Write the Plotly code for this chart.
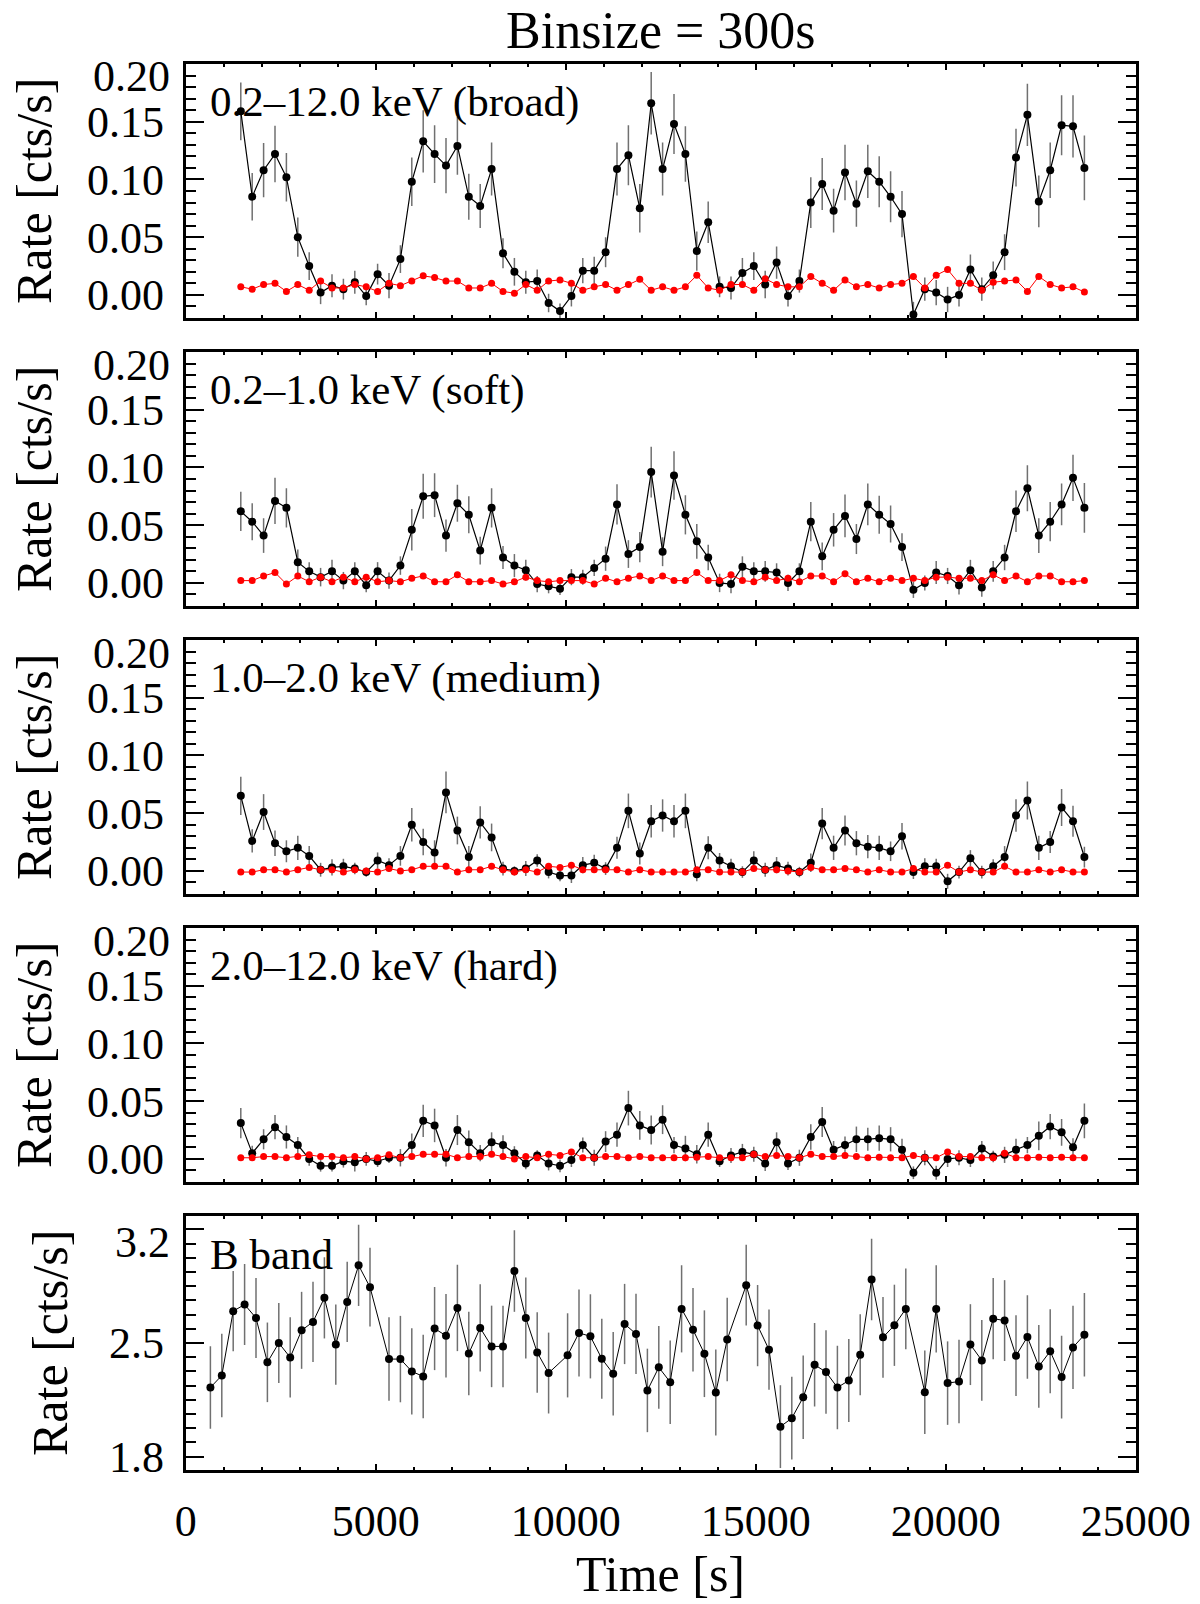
import plotly.graph_objects as go

# ---------------- data ----------------
time_xray = [1450, 1750, 2050, 2350, 2650, 2950, 3250, 3550, 3850, 4150,
             4450, 4750, 5050, 5350, 5650, 5950, 6250, 6550, 6850, 7150,
             7450, 7750, 8050, 8350, 8650, 8950, 9250, 9550, 9850, 10150,
             10450, 10750, 11050, 11350, 11650, 11950, 12250, 12550, 12850, 13150,
             13450, 13750, 14050, 14350, 14650, 14950, 15250, 15550, 15850, 16150,
             16450, 16750, 17050, 17350, 17650, 17950, 18250, 18550, 18850, 19150,
             19450, 19750, 20050, 20350, 20650, 20950, 21250, 21550, 21850, 22150,
             22450, 22750, 23050, 23350, 23650]

broad_src = [0.159, 0.085, 0.108, 0.122, 0.102, 0.050, 0.025, 0.002, 0.008, 0.005,
             0.011, -0.001, 0.018, 0.008, 0.031, 0.098, 0.133, 0.122, 0.112, 0.129,
             0.085, 0.077, 0.109, 0.036, 0.020, 0.011, 0.012, -0.007, -0.014, -0.001,
             0.021, 0.021, 0.037, 0.109, 0.121, 0.075, 0.166, 0.109, 0.148, 0.122,
             0.038, 0.063, 0.007, 0.006, 0.019, 0.025, 0.009, 0.028, -0.001, 0.012,
             0.080, 0.096, 0.073, 0.106, 0.079, 0.107, 0.098, 0.085, 0.070, -0.017,
             0.005, 0.002, -0.004, 0.000, 0.022, 0.005, 0.017, 0.037, 0.119, 0.156,
             0.081, 0.108, 0.147, 0.146, 0.110]
broad_err = [0.025, 0.0205, 0.0235, 0.0245, 0.021, 0.017, 0.012, 0.010, 0.010, 0.009,
             0.010, 0.008, 0.009, 0.011, 0.012, 0.021, 0.027, 0.025, 0.024, 0.025,
             0.020, 0.019, 0.023, 0.013, 0.012, 0.010, 0.010, 0.008, 0.0065, 0.009,
             0.011, 0.012, 0.013, 0.023, 0.026, 0.021, 0.027, 0.023, 0.026, 0.024,
             0.017, 0.018, 0.009, 0.010, 0.013, 0.012, 0.012, 0.014, 0.009, 0.010,
             0.022, 0.0225, 0.019, 0.024, 0.020, 0.023, 0.022, 0.022, 0.020, 0.011,
             0.010, 0.011, 0.011, 0.010, 0.013, 0.010, 0.012, 0.0155, 0.025, 0.027,
             0.0225, 0.024, 0.026, 0.027, 0.028]
broad_bkg = [0.007, 0.005, 0.009, 0.010, 0.003, 0.009, 0.004, 0.012, 0.006, 0.006,
             0.009, 0.007, 0.003, 0.010, 0.008, 0.012, 0.0165, 0.015, 0.012, 0.012,
             0.006, 0.006, 0.010, 0.003, 0.0015, 0.009, 0.004, 0.012, 0.013, 0.010,
             0.004, 0.007, 0.009, 0.004, 0.009, 0.0135, 0.004, 0.007, 0.004, 0.007,
             0.017, 0.006, 0.004, 0.009, 0.009, 0.004, 0.014, 0.009, 0.007, 0.007,
             0.016, 0.010, 0.004, 0.013, 0.007, 0.009, 0.006, 0.009, 0.010, 0.016,
             0.006, 0.017, 0.022, 0.010, 0.010, 0.004, 0.011, 0.012, 0.013, 0.003,
             0.016, 0.009, 0.006, 0.007, 0.0025]

soft_src = [0.062, 0.053, 0.041, 0.071, 0.065, 0.018, 0.010, 0.005, 0.010, 0.002,
            0.010, -0.002, 0.010, 0.002, 0.015, 0.046, 0.075, 0.076, 0.041, 0.069,
            0.059, 0.028, 0.065, 0.022, 0.015, 0.011, -0.001, -0.003, -0.005, 0.005,
            0.005, 0.013, 0.021, 0.068, 0.025, 0.031, 0.096, 0.027, 0.093, 0.059,
            0.036, 0.022, 0.000, -0.001, 0.014, 0.010, 0.010, 0.009, 0.000, 0.010,
            0.053, 0.023, 0.046, 0.058, 0.038, 0.068, 0.059, 0.051, 0.031, -0.006,
            0.000, 0.009, 0.006, -0.002, 0.011, -0.004, 0.010, 0.022, 0.062, 0.082,
            0.041, 0.053, 0.068, 0.091, 0.065]
soft_err = [0.017, 0.016, 0.015, 0.020, 0.017, 0.011, 0.008, 0.008, 0.010, 0.0075,
            0.008, 0.006, 0.008, 0.007, 0.008, 0.018, 0.0195, 0.019, 0.014, 0.016,
            0.016, 0.012, 0.017, 0.010, 0.010, 0.009, 0.007, 0.006, 0.0055, 0.007,
            0.0065, 0.007, 0.0105, 0.0175, 0.012, 0.013, 0.022, 0.0125, 0.021, 0.017,
            0.015, 0.011, 0.008, 0.008, 0.009, 0.008, 0.009, 0.008, 0.007, 0.007,
            0.017, 0.012, 0.0145, 0.0185, 0.013, 0.018, 0.0165, 0.016, 0.012, 0.007,
            0.0065, 0.010, 0.007, 0.008, 0.009, 0.008, 0.009, 0.011, 0.018, 0.020,
            0.015, 0.017, 0.018, 0.020, 0.0215]
soft_bkg = [0.002, 0.002, 0.006, 0.009, -0.001, 0.006, 0.001, 0.005, 0.001, 0.005,
            0.001, 0.005, 0.001, 0.002, 0.001, 0.004, 0.006, 0.001, 0.001, 0.007,
            0.001, 0.001, 0.002, -0.001, 0.001, 0.005, 0.002, 0.001, 0.002, 0.002,
            0.002, -0.001, 0.004, 0.001, 0.004, 0.006, 0.002, 0.006, 0.002, 0.002,
            0.009, 0.002, 0.002, 0.007, 0.002, 0.001, 0.005, 0.002, 0.004, 0.001,
            0.006, 0.006, 0.001, 0.008, 0.001, 0.004, 0.001, 0.004, 0.002, 0.004,
            0.002, 0.005, 0.005, 0.004, 0.004, 0.002, 0.007, 0.002, 0.006, 0.001,
            0.006, 0.006, 0.001, 0.001, 0.002]

medium_src = [0.065, 0.026, 0.051, 0.024, 0.017, 0.020, 0.013, 0.001, 0.003, 0.004,
              0.002, -0.001, 0.009, 0.005, 0.013, 0.040, 0.025, 0.016, 0.068, 0.035,
              0.012, 0.042, 0.029, 0.002, 0.000, 0.002, 0.009, -0.001, -0.004, -0.004,
              0.005, 0.007, 0.002, 0.020, 0.052, 0.015, 0.043, 0.048, 0.043, 0.052,
              -0.003, 0.020, 0.009, 0.004, -0.001, 0.009, 0.001, 0.005, 0.002, -0.001,
              0.007, 0.041, 0.020, 0.035, 0.024, 0.021, 0.020, 0.017, 0.030, -0.001,
              0.004, 0.004, -0.009, -0.001, 0.011, -0.001, 0.004, 0.012, 0.048, 0.061,
              0.020, 0.025, 0.055, 0.043, 0.012]
medium_err = [0.0165, 0.010, 0.0155, 0.011, 0.0095, 0.0105, 0.0085, 0.006, 0.007, 0.0065,
              0.005, 0.004, 0.007, 0.006, 0.0085, 0.0145, 0.0115, 0.0105, 0.018, 0.012,
              0.0095, 0.014, 0.012, 0.006, 0.004, 0.0065, 0.0055, 0.0055, 0.005, 0.0065,
              0.007, 0.007, 0.0055, 0.0095, 0.015, 0.0095, 0.014, 0.014, 0.014, 0.015,
              0.006, 0.010, 0.0065, 0.0065, 0.005, 0.008, 0.006, 0.007, 0.006, 0.0045,
              0.008, 0.0135, 0.0105, 0.013, 0.0105, 0.010, 0.0105, 0.0085, 0.0115, 0.006,
              0.007, 0.0065, 0.0065, 0.0055, 0.007, 0.0055, 0.006, 0.0095, 0.014, 0.0165,
              0.0105, 0.0095, 0.016, 0.0135, 0.009]
medium_bkg = [-0.001, -0.001, 0.001, 0.001, -0.001, 0.001, 0.003, 0.001, 0.001, -0.001,
              0.001, 0.000, -0.001, 0.002, 0.000, 0.001, 0.004, 0.004, 0.004, -0.001,
              0.001, 0.001, 0.004, 0.001, -0.001, 0.001, -0.001, 0.004, 0.003, 0.005,
              0.001, 0.001, 0.001, 0.001, -0.001, 0.001, -0.001, -0.001, -0.001, -0.001,
              0.001, 0.001, -0.001, -0.001, -0.001, 0.002, 0.001, 0.001, 0.000, -0.001,
              0.003, 0.001, 0.001, 0.002, 0.001, -0.001, 0.001, -0.001, -0.001, 0.002,
              -0.001, -0.001, 0.005, -0.001, 0.001, -0.001, -0.001, 0.004, -0.001, -0.001,
              0.001, -0.001, 0.001, -0.001, -0.001]

hard_src = [0.031, 0.005, 0.017, 0.0275, 0.019, 0.012, 0.000, -0.006, -0.006, -0.002,
            -0.003, 0.000, -0.002, 0.001, 0.001, 0.012, 0.033, 0.029, 0.001, 0.025,
            0.0145, 0.005, 0.0145, 0.012, 0.005, -0.004, 0.003, -0.004, -0.006, -0.001,
            0.012, 0.001, 0.015, 0.021, 0.044, 0.029, 0.025, 0.034, 0.012, 0.009,
            0.004, 0.021, -0.002, 0.003, 0.006, 0.004, -0.004, 0.0145, -0.004, 0.001,
            0.019, 0.032, 0.008, 0.012, 0.017, 0.017, 0.018, 0.017, 0.008, -0.012,
            0.001, -0.012, 0.000, 0.001, -0.001, 0.009, 0.002, 0.0035, 0.008, 0.012,
            0.020, 0.028, 0.023, 0.010, 0.033]
hard_err = [0.013, 0.0065, 0.0087, 0.0105, 0.010, 0.007, 0.006, 0.005, 0.005, 0.0055,
            0.008, 0.006, 0.005, 0.0045, 0.0075, 0.010, 0.014, 0.0145, 0.0075, 0.013,
            0.010, 0.007, 0.0085, 0.0085, 0.006, 0.005, 0.0045, 0.006, 0.0055, 0.006,
            0.0065, 0.007, 0.009, 0.0105, 0.015, 0.0125, 0.0125, 0.0125, 0.007, 0.011,
            0.008, 0.0105, 0.005, 0.0065, 0.007, 0.0065, 0.0065, 0.0085, 0.0055, 0.007,
            0.011, 0.013, 0.0075, 0.0075, 0.011, 0.010, 0.011, 0.0105, 0.0095, 0.0055,
            0.0065, 0.006, 0.007, 0.0065, 0.006, 0.0065, 0.005, 0.007, 0.0095, 0.007,
            0.0125, 0.011, 0.0115, 0.008, 0.015]
hard_bkg = [0.001, 0.001, 0.002, 0.002, 0.001, 0.002, 0.0035, 0.002, 0.002, 0.001,
            0.002, 0.000, 0.001, 0.0035, 0.001, 0.002, 0.004, 0.004, 0.004, 0.001,
            0.002, 0.002, 0.004, 0.002, 0.000, 0.002, 0.001, 0.004, 0.003, 0.006,
            0.001, 0.001, 0.002, 0.002, 0.001, 0.002, 0.001, 0.001, 0.001, 0.001,
            0.0015, 0.002, 0.001, 0.001, 0.001, 0.004, 0.002, 0.003, 0.002, 0.001,
            0.004, 0.002, 0.002, 0.003, 0.002, 0.001, 0.0015, 0.001, 0.001, 0.003,
            0.001, 0.001, 0.006, 0.002, 0.002, 0.001, 0.001, 0.005, 0.001, 0.001,
            0.0015, 0.001, 0.0015, 0.001, 0.001]

time_b = [650, 950, 1250, 1550, 1850, 2150, 2450, 2750, 3050, 3350,
          3650, 3950, 4250, 4550, 4850,
          5350, 5650, 5950, 6250, 6550, 6850, 7150, 7450, 7750, 8050,
          8350, 8650, 8950, 9250, 9550,
          10050, 10350, 10650, 10950, 11250, 11550, 11850, 12150, 12450, 12750,
          13050, 13350, 13650, 13950, 14250,
          14750, 15050, 15350, 15650, 15950, 16250, 16550, 16850, 17150, 17450,
          17750, 18050, 18350, 18650, 18950,
          19450, 19750, 20050, 20350, 20650, 20950, 21250, 21550, 21850, 22150,
          22450, 22750, 23050, 23350, 23650]
bband_rate = [2.226, 2.300, 2.696, 2.737, 2.654, 2.381, 2.500, 2.411, 2.578, 2.630,
              2.778, 2.490, 2.753, 2.978, 2.844, 2.401, 2.401, 2.325, 2.294, 2.589,
              2.545, 2.716, 2.436, 2.593, 2.479, 2.479, 2.943, 2.654, 2.442, 2.315,
              2.424, 2.562, 2.541, 2.403, 2.311, 2.617, 2.556, 2.208, 2.350, 2.259,
              2.710, 2.582, 2.434, 2.195, 2.521, 2.856, 2.607, 2.459, 1.985, 2.037,
              2.166, 2.366, 2.321, 2.226, 2.269, 2.428, 2.891, 2.535, 2.609, 2.710,
              2.197, 2.710, 2.253, 2.263, 2.490, 2.393, 2.650, 2.638, 2.422, 2.537,
              2.356, 2.449, 2.290, 2.473, 2.551]
bband_err = [0.254, 0.257, 0.247, 0.249, 0.247, 0.245, 0.247, 0.247, 0.237, 0.247,
             0.250, 0.247, 0.247, 0.250, 0.242, 0.257, 0.266, 0.266, 0.257, 0.256,
             0.257, 0.266, 0.257, 0.268, 0.251, 0.251, 0.251, 0.249, 0.248, 0.249,
             0.259, 0.268, 0.259, 0.247, 0.257, 0.247, 0.247, 0.257, 0.255, 0.257,
             0.268, 0.257, 0.267, 0.265, 0.257, 0.249, 0.250, 0.247, 0.255, 0.255,
             0.257, 0.257, 0.257, 0.257, 0.256, 0.249, 0.251, 0.249, 0.250, 0.249,
             0.257, 0.268, 0.257, 0.257, 0.249, 0.249, 0.250, 0.249, 0.249, 0.257,
             0.255, 0.259, 0.255, 0.256, 0.257]

panel_labels = ["0.2\u201312.0 keV (broad)", "0.2\u20131.0 keV (soft)",
                "1.0\u20132.0 keV (medium)", "2.0\u201312.0 keV (hard)", "B band"]
xray_ticks = [0.0, 0.05, 0.10, 0.15, 0.20]
xray_ticktext = ["0.00", "0.05", "0.10", "0.15", "0.20"]
b_ticks = [1.8, 2.5, 3.2]
b_ticktext = ["1.8", "2.5", "3.2"]
x_ticks = [0, 5000, 10000, 15000, 20000, 25000]
main_title = "Binsize = 300s"
x_title = "Time [s]"
y_title = "Rate [cts/s]"

# ---------------- layout geometry (pixels) ----------------
W, H = 1200, 1604
X0, X1 = 185.7, 1135.7
tops = [64, 352, 640, 928, 1216]
PH = 254
FONT = "Liberation Serif, Times New Roman, serif"
ERRC = "#707070"

fig = go.Figure()

series = [(broad_src, broad_err, broad_bkg), (soft_src, soft_err, soft_bkg),
          (medium_src, medium_err, medium_bkg), (hard_src, hard_err, hard_bkg)]

for i, (src, err, bkg) in enumerate(series):
    ax = "" if i == 0 else str(i + 1)
    fig.add_trace(go.Scatter(
        x=time_xray, y=src, xaxis="x" + ax, yaxis="y" + ax, mode="lines+markers",
        line=dict(color="black", width=1.2), marker=dict(color="black", size=8),
        error_y=dict(type="data", array=err, visible=True, color=ERRC,
                     thickness=1.5, width=0),
        showlegend=False, cliponaxis=True))
    fig.add_trace(go.Scatter(
        x=time_xray, y=bkg, xaxis="x" + ax, yaxis="y" + ax, mode="lines+markers",
        line=dict(color="#ff0000", width=1), marker=dict(color="#ff0000", size=7),
        showlegend=False))

fig.add_trace(go.Scatter(
    x=time_b, y=bband_rate, xaxis="x5", yaxis="y5", mode="lines+markers",
    line=dict(color="black", width=1), marker=dict(color="black", size=8),
    error_y=dict(type="data", array=bband_err, visible=True, color=ERRC,
                 thickness=1.5, width=0),
    showlegend=False))

layout = dict(width=W, height=H,
              margin=dict(l=0, r=0, t=0, b=0, pad=0, autoexpand=False),
              paper_bgcolor="white", plot_bgcolor="white",
              font=dict(family=FONT, color="black"), showlegend=False)

annotations = []
for i in range(5):
    ax = "" if i == 0 else str(i + 1)
    top, bot = tops[i], tops[i] + PH
    ydom = [1 - bot / H, 1 - top / H]
    xa = dict(domain=[X0 / W, X1 / W], range=[0, 25000], anchor="y" + ax,
              showline=True, linewidth=3, linecolor="black", mirror="allticks",
              ticks="inside", ticklen=6, tickwidth=2, tickcolor="black",
              tickmode="array", tickvals=x_ticks, ticktext=[str(v) for v in x_ticks],
              showticklabels=(i == 4), tickfont=dict(size=44, family=FONT),
              ticklabelstandoff=10, automargin=False,
              minor=dict(ticks="inside", ticklen=3, tickwidth=1.5, tickcolor="black",
                         dtick=1000, tick0=0, showgrid=False),
              showgrid=False, zeroline=False)
    if i < 4:
        yrange = [-0.02, 0.20]
        tv, tt = xray_ticks, xray_ticktext[:-1] + [""]
        minor = dict(ticks="inside", ticklen=10, tickwidth=1.5, tickcolor="black",
                     dtick=0.01, tick0=0, showgrid=False)
        top_label, top_val = xray_ticktext[-1], xray_ticks[-1]
        title_x = 34
    else:
        yrange = [1.718, 3.282]
        tv, tt = b_ticks, b_ticktext[:-1] + [""]
        minor = dict(ticks="inside", ticklen=10, tickwidth=1.5, tickcolor="black",
                     dtick=0.0875, tick0=1.8, showgrid=False)
        top_label, top_val = b_ticktext[-1], b_ticks[-1]
        title_x = 50
    ya = dict(domain=ydom, range=yrange, anchor="x" + ax,
              showline=True, linewidth=3, linecolor="black", mirror="allticks",
              ticks="inside", ticklen=18, tickwidth=2, tickcolor="black",
              tickmode="array", tickvals=tv, ticktext=tt,
              tickfont=dict(size=44, family=FONT), ticklabelstandoff=10,
              automargin=False,
              minor=minor, showgrid=False, zeroline=False)
    layout["xaxis" + ax] = xa
    layout["yaxis" + ax] = ya
    # top tick label (drawn slightly below its tick, as in the original)
    annotations.append(dict(text=top_label, xref="paper", yref="y" + ax,
                            x=172 / W, y=top_val, xanchor="right", yanchor="middle",
                            yshift=-13, showarrow=False,
                            font=dict(size=44, family=FONT, color="black")))
    # panel label
    annotations.append(dict(text=panel_labels[i], xref="paper", yref="paper",
                            x=208 / W, y=1 - (top + 38) / H, xanchor="left",
                            yanchor="middle", showarrow=False,
                            font=dict(size=43, family=FONT, color="black")))
    # y axis title
    annotations.append(dict(text=y_title, xref="paper", yref="paper",
                            x=title_x / W, y=1 - (top + PH / 2) / H, xanchor="center",
                            yanchor="middle", textangle=-90, showarrow=False,
                            font=dict(size=50, family=FONT, color="black")))

annotations.append(dict(text=main_title, xref="paper", yref="paper",
                        x=(X0 + X1) / 2 / W, y=1, xanchor="center",
                        yanchor="top", showarrow=False,
                        font=dict(size=52, family=FONT, color="black")))
annotations.append(dict(text=x_title, xref="paper", yref="paper",
                        x=(X0 + X1) / 2 / W, y=0, xanchor="center",
                        yanchor="bottom", showarrow=False,
                        font=dict(size=50, family=FONT, color="black")))
layout["annotations"] = annotations

fig.update_layout(**layout)
fig.write_html("out.html")
